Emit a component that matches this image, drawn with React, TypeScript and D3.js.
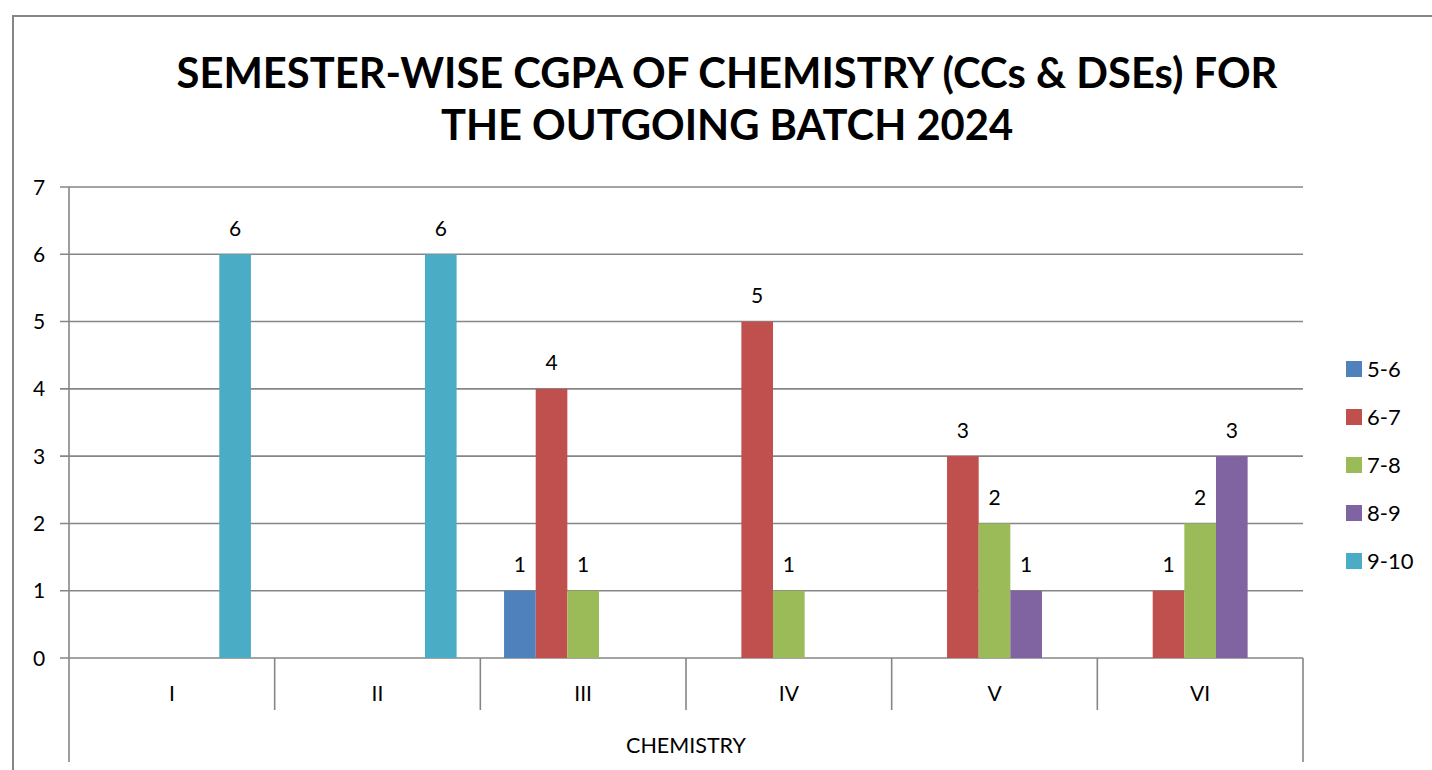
import React from "react";
import * as d3 from "d3";

const categories = ["I", "II", "III", "IV", "V", "VI"];
const seriesNames = ["5-6", "6-7", "7-8", "8-9", "9-10"];
const s56 = [0, 0, 1, 0, 0, 0];
const s67 = [0, 0, 4, 5, 3, 1];
const s78 = [0, 0, 1, 1, 2, 2];
const s89 = [0, 0, 0, 0, 1, 3];
const s910 = [6, 6, 0, 0, 0, 0];
const seriesValues = [s56, s67, s78, s89, s910];
const colors = ["#4F81BD", "#C0504D", "#9BBB59", "#8064A2", "#4BACC6"];
const yTicks = [0, 1, 2, 3, 4, 5, 6, 7];
const titleLines = ["SEMESTER-WISE CGPA OF CHEMISTRY (CCs & DSEs) FOR", "THE OUTGOING BATCH 2024"];
const groupLabel = "CHEMISTRY";

export default function App() {
  const W = 1432, H = 770;
  const left = 69, right = 1303, top = 187, bottom = 658;
  const font = "Lato, 'Open Sans', sans-serif";
  const grid = "#868686";

  const x0 = d3.scaleBand().domain(categories).range([left, right]).paddingInner(0).paddingOuter(0);
  const bw = x0.bandwidth() / (seriesNames.length + 1.5);
  const x1 = d3.scaleBand().domain(seriesNames).range([bw * 0.75, bw * 0.75 + bw * seriesNames.length]).padding(0);
  const y = d3.scaleLinear().domain([0, 7]).range([bottom, top]);

  return (
    <svg width={W} height={H} style={{ position: "absolute", left: 0, top: 0 }} fontFamily={font}>
      <rect x={0} y={0} width={W} height={H} fill="#fff" />
      <rect x={13} y={16} width={W + 20} height={H + 20} fill="none" stroke={grid} strokeWidth={2} />
      {titleLines.map((t, i) => (
        <text key={i} x={727} y={88 + i * 52} textAnchor="middle" fontSize={41.7} fontWeight="bold" fill="#000">
          {t}
        </text>
      ))}
      {yTicks.map((t) => (
        <g key={t}>
          <line x1={60} x2={right} y1={y(t)} y2={y(t)} stroke={grid} strokeWidth={1.6} />
          <text x={39} y={y(t)} dy="0.36em" textAnchor="middle" fontSize={21} fill="#000">{t}</text>
        </g>
      ))}
      <line x1={left} x2={left} y1={top} y2={762} stroke={grid} strokeWidth={1.6} />
      <line x1={right} x2={right} y1={bottom} y2={762} stroke={grid} strokeWidth={1.6} />
      {categories.slice(1).map((c) => (
        <line key={c} x1={x0(c)!} x2={x0(c)!} y1={bottom} y2={710} stroke={grid} strokeWidth={1.6} />
      ))}
      {categories.map((c) => (
        <text key={c} x={x0(c)! + x0.bandwidth() / 2} y={693} dy="0.36em" textAnchor="middle" fontSize={21} fill="#000">{c}</text>
      ))}
      <text x={(left + right) / 2} y={745} dy="0.36em" textAnchor="middle" fontSize={21.5} fill="#000">{groupLabel}</text>
      {seriesValues.map((vals, si) => (
        <g key={si}>
          {vals.map((v, ci) => {
            if (v === 0) return null;
            const bx = x0(categories[ci])! + x1(seriesNames[si])!;
            return (
              <g key={ci}>
                <rect x={bx} y={y(v)} width={x1.bandwidth()} height={y(0) - y(v)} fill={colors[si]} />
                <text x={bx + x1.bandwidth() / 2} y={y(v) - 26} dy="0.36em" textAnchor="middle" fontSize={21} fill="#000">{v}</text>
              </g>
            );
          })}
        </g>
      ))}
      {seriesNames.map((s, i) => (
        <g key={s}>
          <rect x={1346} y={361 + i * 48} width={16} height={16} fill={colors[i]} />
          <text x={1367} y={369 + i * 48} dy="0.36em" fontSize={22} fill="#000">{s}</text>
        </g>
      ))}
    </svg>
  );
}
